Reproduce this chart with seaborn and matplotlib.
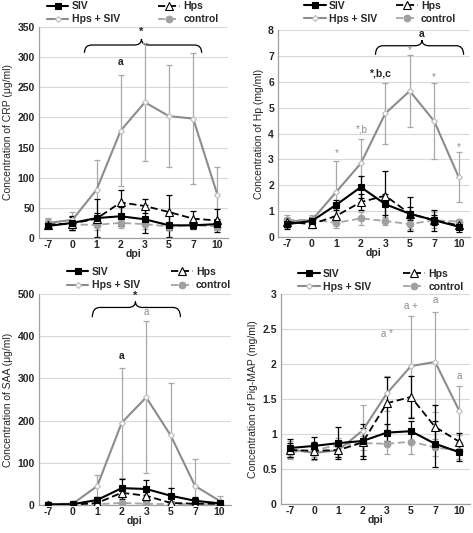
import numpy as np
import pandas as pd
import matplotlib
matplotlib.use('Agg')
import matplotlib.pyplot as plt
import seaborn as sns
from matplotlib.path import Path
from matplotlib.patches import PathPatch

sns.set_style('white')
plt.rcParams['font.family'] = ['Liberation Sans', 'DejaVu Sans']
plt.rcParams['font.size'] = 7.5

dpi_labels = ['-7', '0', '1', '2', '3', '5', '7', '10']

# CRP (ug/ml)
crp_siv = [20, 25, 33, 36, 31, 21, 21, 23]
crp_siv_sd = [4, 12, 31, 16, 23, 20, 6, 8]
crp_hps = [22, 24, 32, 59, 53, 43, 32, 29]
crp_hps_sd = [6, 10, 10, 21, 12, 29, 13, 19]
crp_comb = [25, 30, 80, 178, 225, 202, 198, 72]
crp_comb_sd = [8, 13, 50, 92, 98, 85, 109, 45]
crp_ctrl = [25, 22, 22, 25, 23, 19, 21, 19]
crp_ctrl_sd = [7, 8, 8, 8, 8, 6, 5, 5]

# Hp (mg/ml)
hp_siv = [0.5, 0.62, 1.25, 1.93, 1.27, 0.9, 0.65, 0.4]
hp_siv_sd = [0.2, 0.15, 0.2, 0.42, 0.4, 0.25, 0.2, 0.2]
hp_hps = [0.58, 0.5, 0.82, 1.35, 1.6, 0.9, 0.65, 0.45]
hp_hps_sd = [0.15, 0.15, 0.3, 0.3, 0.95, 0.65, 0.4, 0.15]
hp_comb = [0.6, 0.65, 1.75, 2.85, 4.78, 5.65, 4.48, 2.32]
hp_comb_sd = [0.25, 0.2, 1.2, 0.95, 1.18, 1.38, 1.48, 0.95]
hp_ctrl = [0.65, 0.67, 0.55, 0.72, 0.62, 0.5, 0.65, 0.6]
hp_ctrl_sd = [0.1, 0.1, 0.2, 0.25, 0.15, 0.2, 0.3, 0.1]

# SAA (ug/ml)
saa_siv = [1, 2, 12, 40, 38, 22, 10, 4]
saa_siv_sd = [1, 1, 8, 22, 22, 18, 8, 4]
saa_hps = [1, 1, 5, 29, 22, 5, 3, 3]
saa_hps_sd = [1, 1, 4, 15, 12, 4, 2, 2]
saa_comb = [2, 3, 45, 195, 255, 165, 45, 10]
saa_comb_sd = [2, 3, 25, 130, 180, 125, 63, 12]
saa_ctrl = [2, 2, 2, 5, 3, 2, 2, 2]
saa_ctrl_sd = [1, 1, 1, 3, 2, 1, 1, 1]

# Pig-MAP (mg/ml)
pm_siv = [0.8, 0.83, 0.87, 0.9, 1.02, 1.04, 0.86, 0.74]
pm_siv_sd = [0.13, 0.13, 0.23, 0.25, 0.12, 0.15, 0.33, 0.12]
pm_hps = [0.77, 0.76, 0.77, 0.88, 1.44, 1.53, 1.1, 0.89]
pm_hps_sd = [0.1, 0.12, 0.1, 0.2, 0.38, 0.3, 0.32, 0.12]
pm_comb = [0.78, 0.73, 0.77, 1.05, 1.58, 1.97, 2.03, 1.33]
pm_comb_sd = [0.12, 0.1, 0.1, 0.37, 0.25, 0.72, 0.72, 0.35]
pm_ctrl = [0.74, 0.77, 0.84, 0.87, 0.86, 0.89, 0.81, 0.76]
pm_ctrl_sd = [0.1, 0.1, 0.1, 0.1, 0.14, 0.18, 0.12, 0.12]

# group styles: label, line colour, linestyle, marker, face, edge, errorbar colour
styles = [
    ('SIV', 'black', '-', 's', 'black', 'black', 'black'),
    ('Hps', 'black', (0, (4, 2)), '^', 'white', 'black', 'black'),
    ('Hps + SIV', '#8c8c8c', '-', 'D', 'white', '#b8b8b8', '#a8a8a8'),
    ('control', '#a6a6a6', (0, (4, 2)), 'o', '#a0a0a0', '#a0a0a0', '#a6a6a6'),
]
msizes = {'s': 4.8, '^': 5.2, 'D': 3, 'o': 4.8}
lwidths = {'SIV': 1.5, 'Hps': 1.3, 'Hps + SIV': 1.5, 'control': 1.3}


def brace(ax, x0, x1, xm, y0, ybar, ytip, color='black'):
    dx = 0.3
    verts = [(x0, y0), (x0, ybar), (x0 + dx, ybar),
             (xm - dx, ybar),
             (xm, ybar), (xm, ytip),
             (xm, ybar), (xm + dx, ybar),
             (x1 - dx, ybar),
             (x1, ybar), (x1, y0)]
    codes = [Path.MOVETO, Path.CURVE3, Path.CURVE3, Path.LINETO,
             Path.CURVE3, Path.CURVE3, Path.CURVE3, Path.CURVE3,
             Path.LINETO, Path.CURVE3, Path.CURVE3]
    ax.add_patch(PathPatch(Path(verts, codes), fc='none', ec=color,
                           lw=0.9, clip_on=False))


def panel(ax, series, ylabel, ymax, ystep, yfmt, leg_x, leg_y, colsp):
    pos = np.arange(len(dpi_labels))
    order = [2, 3, 1, 0]
    for i in order:
        name, col, ls, mk, fc, ec, errc = styles[i]
        vals, sd = series[i]
        ax.errorbar(pos, vals, yerr=sd, fmt='none', ecolor=errc,
                    elinewidth=0.9, capsize=2, capthick=0.9, zorder=2)
    for i in order:
        name, col, ls, mk, fc, ec, errc = styles[i]
        vals, sd = series[i]
        df = pd.DataFrame({'pos': pos, 'val': vals})
        sns.lineplot(data=df, x='pos', y='val', ax=ax, color=col,
                     linestyle=ls, lw=lwidths[name], marker=mk,
                     markersize=msizes[mk], markerfacecolor=fc,
                     markeredgecolor=ec, markeredgewidth=0.8,
                     label=name, zorder=3, legend=False)
    ax.set_xlim(-0.38, 7.45)
    ax.set_ylim(0, ymax)
    ax.set_xticks(pos)
    ax.set_xticklabels(dpi_labels, fontweight='bold')
    yt = np.arange(0, ymax + ystep / 2, ystep)
    ax.set_yticks(yt)
    ax.set_yticklabels([yfmt(v) for v in yt], fontweight='bold')
    ax.tick_params(length=0, labelsize=7.5)
    ax.tick_params(axis='x', pad=1.5)
    ax.tick_params(axis='y', pad=3)
    ax.yaxis.grid(True, color='#d9d9d9', lw=0.8)
    ax.set_axisbelow(True)
    for s in ['top', 'right']:
        ax.spines[s].set_visible(False)
    for s in ['left', 'bottom']:
        ax.spines[s].set_color('#a0a0a0')
        ax.spines[s].set_linewidth(0.9)
    ax.set_xlabel('dpi', fontweight='bold', labelpad=-1)
    ax.set_ylabel(ylabel, fontsize=7.5, labelpad=3)
    handles, labels = ax.get_legend_handles_labels()
    hmap = dict(zip(labels, handles))
    names = ['SIV', 'Hps + SIV', 'Hps', 'control']
    ax.legend([hmap[n] for n in names], names, ncol=2, frameon=False,
              loc='lower left', bbox_to_anchor=(leg_x, leg_y),
              handlelength=2.1, handletextpad=0.3, columnspacing=colsp,
              labelspacing=0.3, borderaxespad=0, borderpad=0,
              prop={'weight': 'bold', 'size': 7.5})


fig = plt.figure(figsize=(4.73, 5.33), dpi=100)
axA = fig.add_axes([0.0825, 0.5535, 0.40, 0.396])
axB = fig.add_axes([0.588, 0.5553, 0.405, 0.388])
axC = fig.add_axes([0.0825, 0.0525, 0.405, 0.396])
axD = fig.add_axes([0.594, 0.0544, 0.40, 0.394])


def fmt_int(v):
    return '%d' % v


def fmt_half(v):
    return ('%g' % v)


panel(axA, [(crp_siv, crp_siv_sd), (crp_hps, crp_hps_sd),
            (crp_comb, crp_comb_sd), (crp_ctrl, crp_ctrl_sd)],
      'Concentration of CRP (μg/ml)', 350, 50, fmt_int, 0.04, 1.012, 3.7)
panel(axB, [(hp_siv, hp_siv_sd), (hp_hps, hp_hps_sd),
            (hp_comb, hp_comb_sd), (hp_ctrl, hp_ctrl_sd)],
      'Concentration of Hp (mg/ml)', 8, 1, fmt_int, 0.135, 1.03, 1.8)
panel(axC, [(saa_siv, saa_siv_sd), (saa_hps, saa_hps_sd),
            (saa_comb, saa_comb_sd), (saa_ctrl, saa_ctrl_sd)],
      'Concentration of SAA (μg/ml)', 500, 100, fmt_int, 0.144, 1.018, 3.0)
panel(axD, [(pm_siv, pm_siv_sd), (pm_hps, pm_hps_sd),
            (pm_comb, pm_comb_sd), (pm_ctrl, pm_ctrl_sd)],
      'Concentration of Pig-MAP (mg/ml)', 3, 0.5, fmt_half, 0.09, 1.01, 3.1)

gray = '#8c8c8c'
# CRP annotations
brace(axA, 1.5, 6.35, 3.86, 307, 320, 330)
axA.text(3.86, 333, '*', ha='center', va='bottom', fontweight='bold', fontsize=8)
axA.text(3, 283, 'a', ha='center', va='bottom', fontweight='bold', fontsize=7.5)

# Hp annotations
brace(axB, 3.6, 7.2, 5.5, 7.05, 7.4, 7.62)
axB.text(5.5, 7.65, 'a', ha='center', va='bottom', fontweight='bold', fontsize=7.5)
axB.text(3.8, 6.15, '*,b,c', ha='center', va='bottom', fontweight='bold', fontsize=7.5)
axB.text(3.05, 3.95, '*,b', ha='center', va='bottom', color=gray, fontsize=7)
for p, yv in [(2, 3.05), (5, 7.05), (6, 6.0), (7, 3.3)]:
    axB.text(p, yv, '*', ha='center', va='bottom', color=gray, fontsize=7)

# SAA annotations
brace(axC, 1.8, 5.4, 3.56, 445, 468, 482)
axC.text(3.56, 484, '*', ha='center', va='bottom', fontweight='bold', fontsize=8)
axC.text(4, 445, 'a', ha='center', va='bottom', color=gray, fontsize=7)
axC.text(3, 340, 'a', ha='center', va='bottom', fontweight='bold', fontsize=7.5)

# Pig-MAP annotations
axD.text(4, 2.36, 'a *', ha='center', va='bottom', color=gray, fontsize=7)
axD.text(5, 2.76, 'a +', ha='center', va='bottom', color=gray, fontsize=7)
axD.text(6, 2.84, 'a', ha='center', va='bottom', color=gray, fontsize=7)
axD.text(7, 1.76, 'a', ha='center', va='bottom', color=gray, fontsize=7)

fig.savefig('out.png', dpi=100)
